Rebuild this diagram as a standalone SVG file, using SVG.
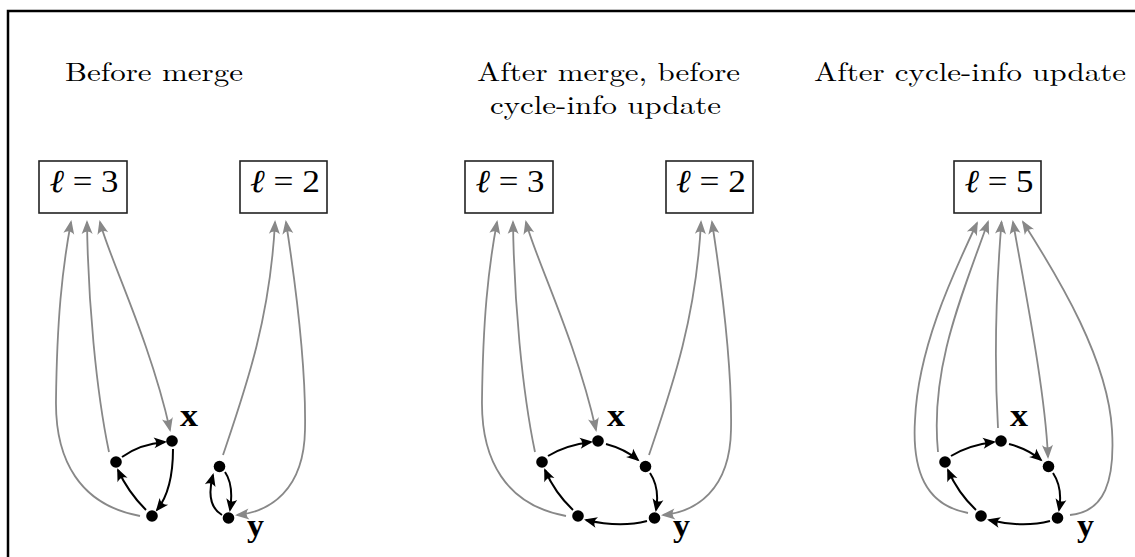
<svg xmlns="http://www.w3.org/2000/svg" width="1135" height="557" viewBox="0 0 1135 557">
<style>
.frame{fill:none;stroke:#000;stroke-width:2.5}
.title{font-family:"Latin Modern Roman","Liberation Serif",serif;font-size:26px;fill:#000}
.box{fill:#fff;stroke:#222;stroke-width:1.6}
.math{font-family:"Liberation Serif","DejaVu Serif",serif;font-size:32px;fill:#000}
.lbl{font-family:"Liberation Serif",serif;font-size:31px;font-weight:bold;fill:#000}
.node{fill:#000}
.g{fill:none;stroke:#888;stroke-width:1.8;marker-end:url(#ag)}
.gg{fill:none;stroke:#888;stroke-width:1.8;marker-start:url(#ag);marker-end:url(#ag)}
.b{fill:none;stroke:#000;stroke-width:2;marker-end:url(#ab)}
</style>
<defs>
<marker id="ag" viewBox="-14 -7 16 14" refX="-1" refY="0" markerWidth="16" markerHeight="14" markerUnits="userSpaceOnUse" orient="auto-start-reverse">
<path d="M1,0 L-13,-5.5 Q-8,0 -13,5.5 Z" fill="#888"/>
</marker>
<marker id="ab" viewBox="-14 -7 16 14" refX="-1" refY="0" markerWidth="16" markerHeight="14" markerUnits="userSpaceOnUse" orient="auto-start-reverse">
<path d="M1,0 L-12,-5.5 Q-7.5,0 -12,5.5 Z" fill="#000"/>
</marker>
</defs>
<rect width="1135" height="557" fill="#fff"/>
<path class="frame" d="M8,560 V11 H1140"/>

<g id="titles">
<text class="title" x="65" y="81" textLength="178" lengthAdjust="spacingAndGlyphs">Before merge</text>
<text class="title" x="477" y="81" textLength="263" lengthAdjust="spacingAndGlyphs">After merge, before</text>
<text class="title" x="490" y="114" textLength="231" lengthAdjust="spacingAndGlyphs">cycle-info update</text>
<text class="title" x="814" y="81" textLength="312" lengthAdjust="spacingAndGlyphs">After cycle-info update</text>
</g>

<g id="connectors">
<!-- panel 1 gray -->
<path class="g" d="M140,516 C 80,505 55,460 56,400 C 57,320 62,270 71,222"/>
<path class="g" d="M109,452 C 96,390 88,300 87,222"/>
<path class="gg" d="M100,222 C 108,255 150,340 170,430"/>
<path class="g" d="M223,455 C 245,390 270,320 275,222"/>
<path class="gg" d="M286,222 C 298,300 306,380 305,430 C 304,490 270,512 237,515"/>
<!-- panel 1 black -->
<path class="b" d="M122,457 Q140,444 165,442"/>
<path class="b" d="M173,449 Q173,490 157,510"/>
<path class="b" d="M146,510 Q128,492 118,470"/>
<path class="b" d="M225,472 Q234,485 230,510"/>
<path class="b" d="M222,515 Q205,505 213,475"/>
<!-- panel 2 gray -->
<path class="g" d="M566,516 C 506,505 481,460 482,400 C 483,320 488,270 497,222"/>
<path class="g" d="M535,452 C 522,390 514,300 513,222"/>
<path class="gg" d="M526,222 C 534,255 576,340 596,430"/>
<path class="g" d="M649,455 C 671,390 696,320 701,222"/>
<path class="gg" d="M712,222 C 724,300 732,380 731,430 C 730,490 696,512 663,515"/>
<!-- panel 2 black -->
<path class="b" d="M548,456 Q566,445 591,442"/>
<path class="b" d="M606,444 Q625,449 638,460"/>
<path class="b" d="M650,473 Q660,488 656,510"/>
<path class="b" d="M647,521 Q620,528 586,520"/>
<path class="b" d="M573,510 Q555,493 545,470"/>
<!-- panel 3 gray -->
<path class="g" d="M968,513 C 925,505 912,470 915,420 C 918,350 950,280 977,223"/>
<path class="g" d="M938,452 C 930,370 960,300 988,222"/>
<path class="g" d="M998,428 C 994,360 996,290 1001.5,222"/>
<path class="gg" d="M1013,222 C 1025,290 1045,390 1048,457"/>
<path class="g" d="M1070,515 C 1105,512 1115,480 1112,430 C 1108,360 1060,280 1023,222"/>
<!-- panel 3 black -->
<path class="b" d="M951,456 Q969,445 994,442"/>
<path class="b" d="M1009,444 Q1028,449 1041,460"/>
<path class="b" d="M1053,473 Q1063,488 1059,510"/>
<path class="b" d="M1050,521 Q1023,528 989,520"/>
<path class="b" d="M976,510 Q958,493 948,470"/>
</g>

<g id="box1"><rect class="box" x="39" y="161" width="88" height="52"/><text class="math" x="49.5" y="192" textLength="69" lengthAdjust="spacingAndGlyphs"><tspan font-style="italic">ℓ</tspan> = 3</text></g>
<g id="box2"><rect class="box" x="240" y="161" width="87" height="52"/><text class="math" x="250" y="192" textLength="70" lengthAdjust="spacingAndGlyphs"><tspan font-style="italic">ℓ</tspan> = 2</text></g>
<g id="box3"><rect class="box" x="465" y="161" width="88" height="52"/><text class="math" x="475.5" y="192" textLength="69" lengthAdjust="spacingAndGlyphs"><tspan font-style="italic">ℓ</tspan> = 3</text></g>
<g id="box4"><rect class="box" x="666" y="161" width="87" height="52"/><text class="math" x="676" y="192" textLength="70" lengthAdjust="spacingAndGlyphs"><tspan font-style="italic">ℓ</tspan> = 2</text></g>
<g id="box5"><rect class="box" x="954" y="161" width="87" height="52"/><text class="math" x="964.5" y="192" textLength="69" lengthAdjust="spacingAndGlyphs"><tspan font-style="italic">ℓ</tspan> = 5</text></g>

<g id="p1-x"><circle class="node" cx="172" cy="441" r="5.8"/><text class="lbl" x="180" y="426" textLength="18" lengthAdjust="spacingAndGlyphs">x</text></g>
<g id="p1-l"><circle class="node" cx="116" cy="462" r="5.8"/></g>
<g id="p1-bl"><circle class="node" cx="152" cy="516" r="5.8"/></g>
<g id="p1-t"><circle class="node" cx="219.5" cy="466.5" r="5.8"/></g>
<g id="p1-y"><circle class="node" cx="228.5" cy="518" r="5.8"/><text class="lbl" x="247" y="536" textLength="17" lengthAdjust="spacingAndGlyphs">y</text></g>

<g id="p2-x"><circle class="node" cx="598" cy="441" r="5.8"/><text class="lbl" x="607" y="426" textLength="18" lengthAdjust="spacingAndGlyphs">x</text></g>
<g id="p2-l"><circle class="node" cx="542" cy="462" r="5.8"/></g>
<g id="p2-bl"><circle class="node" cx="578" cy="516" r="5.8"/></g>
<g id="p2-rt"><circle class="node" cx="645.5" cy="466.5" r="5.8"/></g>
<g id="p2-y"><circle class="node" cx="654.5" cy="518" r="5.8"/><text class="lbl" x="673" y="536" textLength="17" lengthAdjust="spacingAndGlyphs">y</text></g>

<g id="p3-x"><circle class="node" cx="1001" cy="441" r="5.8"/><text class="lbl" x="1010" y="426" textLength="18" lengthAdjust="spacingAndGlyphs">x</text></g>
<g id="p3-l"><circle class="node" cx="945" cy="462" r="5.8"/></g>
<g id="p3-bl"><circle class="node" cx="981" cy="516" r="5.8"/></g>
<g id="p3-rt"><circle class="node" cx="1048.5" cy="466.5" r="5.8"/></g>
<g id="p3-y"><circle class="node" cx="1057.5" cy="518" r="5.8"/><text class="lbl" x="1077" y="536" textLength="17" lengthAdjust="spacingAndGlyphs">y</text></g>
</svg>
